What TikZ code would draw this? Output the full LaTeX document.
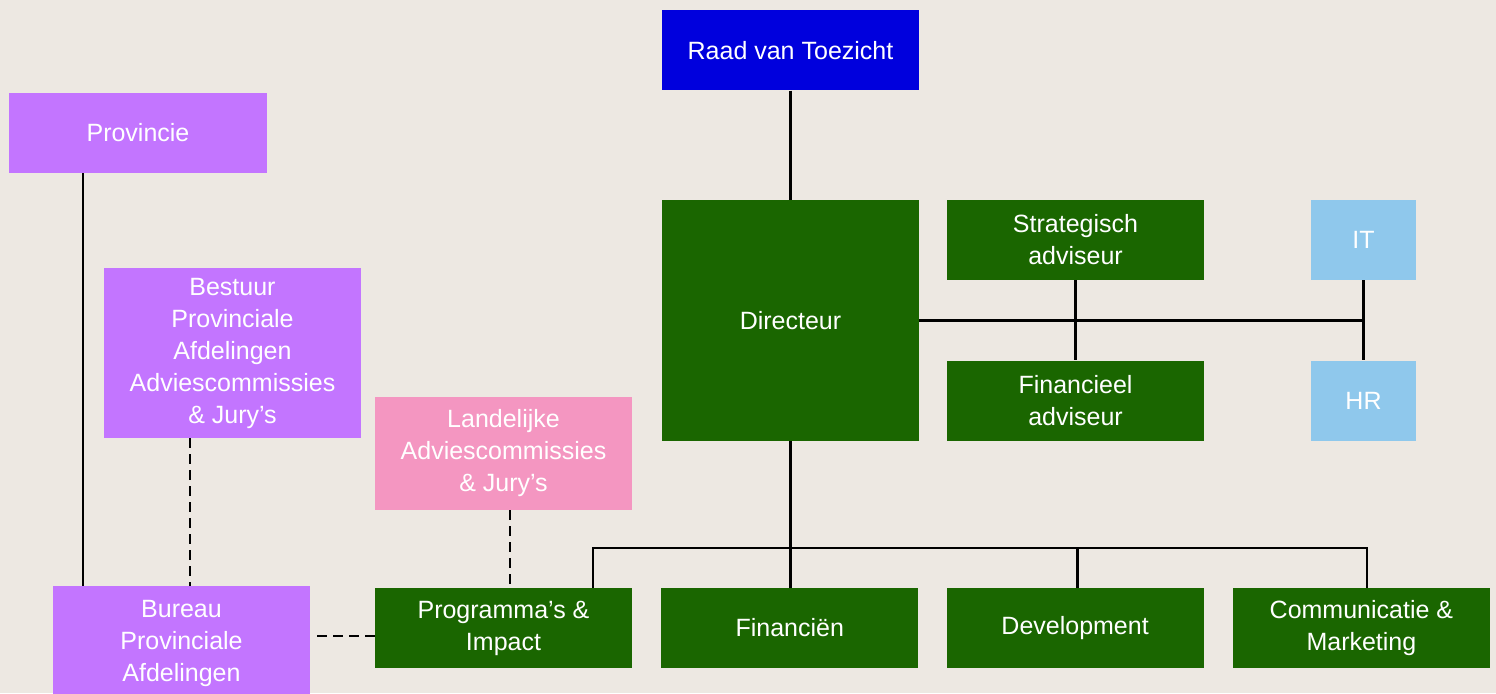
\documentclass[tikz,border=0pt]{standalone}
\usepackage{fontspec}
\setmainfont{Liberation Sans}
\usetikzlibrary{positioning}
\definecolor{paper}{RGB}{237,232,226}
\definecolor{toezichtblue}{RGB}{0,0,221}
\definecolor{orggreen}{RGB}{26,102,0}
\definecolor{provpurple}{RGB}{195,117,255}
\definecolor{juryppink}{RGB}{244,150,193}
\definecolor{staffblue}{RGB}{143,200,236}

\begin{document}
\begin{tikzpicture}[
x=0.5pt, y=-0.5pt,
orgbox/.style={rectangle, inner sep=0pt, text=white, align=center, font=\fontsize{12.5}{16}\selectfont, minimum width=128.5pt, minimum height=40pt},
greenbox/.style={orgbox, fill=orggreen},
purplebox/.style={orgbox, fill=provpurple},
link/.style={line width=1.3pt, black},
dashedlink/.style={link, dash pattern=on 5pt off 3pt},
]
\useasboundingbox (0,0) rectangle (1496,693);
\fill[paper] (0,0) rectangle (1496,693);

%Nodes
\node[greenbox, minimum height=120.5pt] (directeur) at (790.5,320.5) {Directeur};
\node[orgbox, fill=toezichtblue] (raad) [above=54.5pt of directeur] {Raad van Toezicht};
\node[greenbox] (strategisch) at (1075.5,240) {Strategisch\\adviseur};
\node[greenbox] (financieel) [below=40pt of strategisch] {Financieel\\adviseur};
\node[orgbox, fill=staffblue, minimum width=52.5pt] (it) at (1363.5,240) {IT};
\node[orgbox, fill=staffblue, minimum width=52.5pt] (hr) [below=40pt of it] {HR};

\node[greenbox] (programma) at (503.5,628) {Programma's \&\\Impact};
\node[greenbox] (financien) [right=14.25pt of programma] {Financiën};
\node[greenbox] (development) [right=13.75pt of financien] {Development};
\node[greenbox] (communicatie) [right=14.25pt of development] {Communicatie \&\\Marketing};

\node[purplebox, minimum width=129pt] (provincie) at (138,133) {Provincie};
\node[purplebox, minimum height=85pt] (bestuur) at (232.5,353) {Bestuur\\Provinciale\\Afdelingen\\Adviescommissies\\\& Jury's};
\node[orgbox, fill=juryppink, minimum height=56.5pt] (landelijke) at (503.5,453.5) {Landelijke\\Adviescommissies\\\& Jury's};
\node[purplebox, minimum height=57pt] (bureau) at (181.5,643) {Bureau\\Provinciale\\Afdelingen};

%Lines
\coordinate (bus) at (792,548);
\coordinate (sidelink) at ([yshift=-4pt]programma.west);
\draw[link] (raad.south) -- (directeur.north);
\draw[link] (directeur.south) -- (directeur.south |- financien.north);
\draw[link] ([xshift=44.75pt]programma.north) |- (bus) -| ([xshift=2.75pt]communicatie.north);
\draw[link] ([xshift=1.25pt]development.north) -- ([xshift=1.25pt]development.north |- bus);
\draw[link] (directeur.east) -- (directeur.east -| it.south);
\draw[link] (strategisch.south) -- (financieel.north);
\draw[link] (it.south) -- (hr.north);
\draw[link] ([xshift=-27.5pt]provincie.south) -- ([xshift=-27.5pt]provincie.south |- bureau.north);
\draw[dashedlink] ([xshift=-21.25pt]bestuur.south) -- ([xshift=-21.25pt]bestuur.south |- bureau.north);
\draw[dashedlink] ([xshift=3.25pt]landelijke.south) -- ([xshift=3.25pt]landelijke.south |- programma.north);
\draw[dashedlink] (sidelink) -- ([xshift=2.5pt]bureau.east |- sidelink);

\end{tikzpicture}
\end{document}
